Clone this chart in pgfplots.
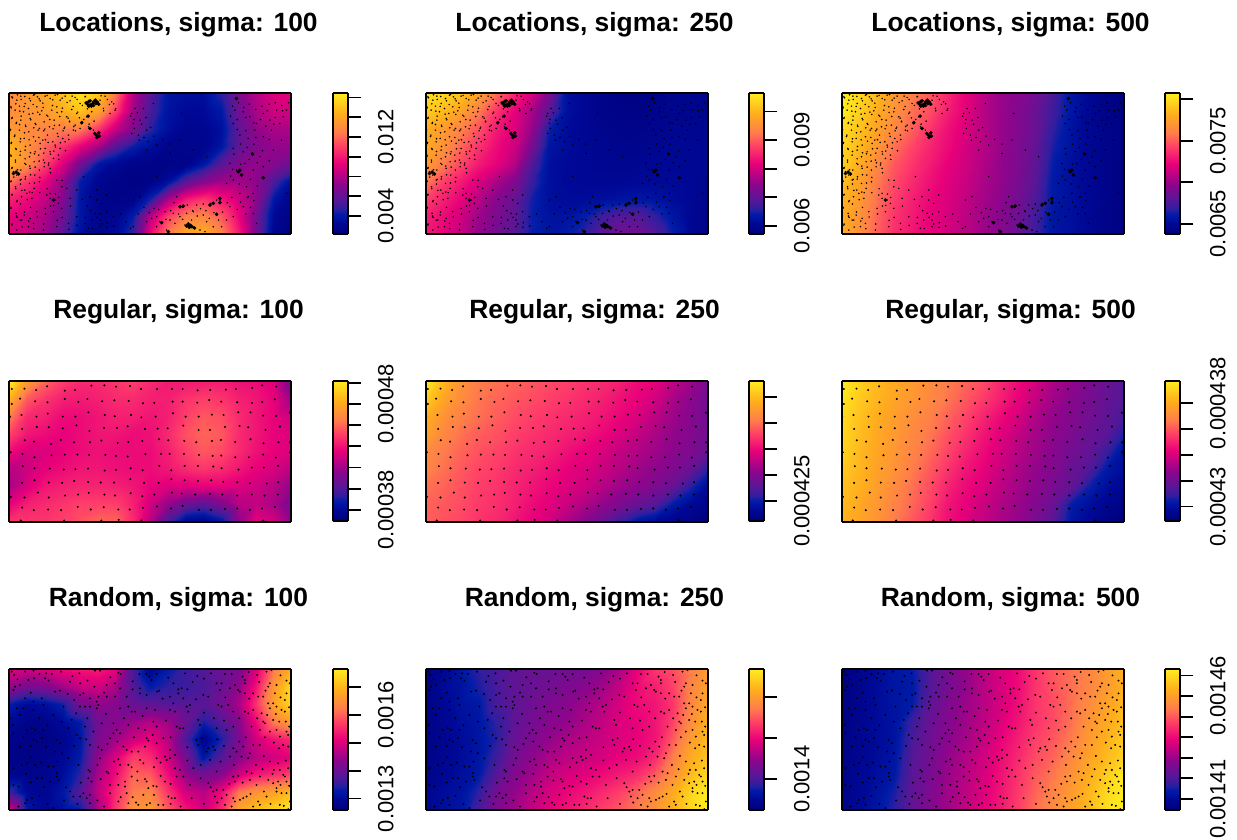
\documentclass[border=0pt]{standalone}
\usepackage{fontspec}
\setmainfont{Liberation Sans}
\usepackage{pgfplots}
\usepackage{pgfplotstable}
\pgfplotsset{compat=1.18}
\pgfplotsset{colormap={rs}{rgb255(0pt)=(0,0,125); rgb255(8pt)=(0,8,150); rgb255(14pt)=(0,28,168); rgb255(18pt)=(48,30,160); rgb255(25pt)=(90,22,150); rgb255(35pt)=(140,5,140); rgb255(50pt)=(232,0,122); rgb255(62pt)=(255,62,105); rgb255(72pt)=(255,125,75); rgb255(85pt)=(255,172,30); rgb255(100pt)=(255,236,30)}}
% ---------- field tables (colour position 0..1, 17 x 9 nodes, row by row)
\pgfplotstableread[row sep=crcr]{c\\
.76\\.80\\.84\\.90\\.98\\.92\\.72\\.42\\.25\\.12\\.10\\.10\\.18\\.32\\.42\\.48\\.50\\
.76\\.78\\.80\\.85\\.90\\.82\\.62\\.38\\.22\\.11\\.08\\.08\\.13\\.30\\.40\\.46\\.46\\
.80\\.76\\.74\\.72\\.72\\.60\\.45\\.33\\.18\\.10\\.06\\.06\\.10\\.26\\.36\\.40\\.40\\
.86\\.78\\.68\\.60\\.50\\.40\\.25\\.15\\.10\\.05\\.05\\.05\\.12\\.26\\.33\\.36\\.36\\
.86\\.76\\.62\\.48\\.30\\.12\\.07\\.04\\.03\\.03\\.04\\.12\\.25\\.33\\.36\\.33\\.28\\
.70\\.60\\.50\\.38\\.14\\.06\\.03\\.02\\.03\\.10\\.25\\.33\\.38\\.38\\.35\\.22\\.10\\
.56\\.52\\.44\\.34\\.12\\.05\\.03\\.05\\.16\\.40\\.55\\.60\\.54\\.45\\.35\\.12\\.05\\
.50\\.46\\.40\\.30\\.12\\.05\\.06\\.14\\.42\\.62\\.72\\.74\\.66\\.50\\.30\\.07\\.03\\
.48\\.44\\.38\\.25\\.10\\.05\\.08\\.20\\.52\\.72\\.84\\.86\\.74\\.55\\.30\\.05\\0\\
}\gA
\pgfplotstableread[row sep=crcr]{c\\
.97\\.95\\.90\\.82\\.70\\.58\\.48\\.32\\.10\\.07\\.04\\.02\\.02\\.03\\.05\\.05\\.05\\
.92\\.88\\.82\\.72\\.60\\.50\\.40\\.25\\.10\\.07\\.04\\.03\\.03\\.04\\.05\\.05\\.05\\
.85\\.80\\.73\\.65\\.55\\.48\\.37\\.15\\.09\\.07\\.05\\.04\\.04\\.05\\.06\\.06\\.06\\
.84\\.78\\.68\\.60\\.52\\.46\\.32\\.12\\.09\\.07\\.06\\.05\\.05\\.06\\.07\\.07\\.06\\
.80\\.72\\.63\\.55\\.50\\.42\\.24\\.10\\.08\\.07\\.06\\.06\\.06\\.07\\.07\\.07\\.06\\
.72\\.62\\.55\\.48\\.40\\.33\\.20\\.10\\.08\\.07\\.07\\.07\\.08\\.08\\.08\\.07\\.05\\
.62\\.56\\.50\\.42\\.34\\.28\\.16\\.10\\.09\\.09\\.10\\.11\\.12\\.11\\.09\\.07\\.05\\
.56\\.52\\.46\\.38\\.32\\.26\\.15\\.11\\.11\\.14\\.20\\.24\\.24\\.18\\.12\\.07\\.04\\
.55\\.50\\.44\\.36\\.30\\.25\\.15\\.12\\.14\\.18\\.26\\.30\\.30\\.24\\.15\\.07\\.03\\
}\gB
\pgfplotstableread[row sep=crcr]{c\\
1\\.95\\.88\\.80\\.73\\.66\\.58\\.50\\.43\\.37\\.34\\.30\\.22\\.12\\.08\\.03\\.02\\
1\\.93\\.85\\.78\\.70\\.64\\.56\\.50\\.42\\.37\\.33\\.28\\.20\\.12\\.07\\.03\\.02\\
.96\\.90\\.82\\.75\\.67\\.60\\.53\\.48\\.42\\.37\\.33\\.28\\.18\\.11\\.07\\.04\\.02\\
.95\\.88\\.79\\.70\\.63\\.57\\.52\\.47\\.42\\.37\\.32\\.27\\.16\\.11\\.07\\.04\\.02\\
.93\\.85\\.75\\.66\\.60\\.55\\.50\\.46\\.41\\.36\\.32\\.26\\.14\\.10\\.07\\.04\\.02\\
.90\\.82\\.72\\.64\\.58\\.53\\.49\\.45\\.40\\.36\\.31\\.25\\.13\\.10\\.07\\.04\\.02\\
.87\\.80\\.70\\.62\\.56\\.51\\.48\\.44\\.39\\.35\\.30\\.23\\.13\\.10\\.07\\.04\\.02\\
.85\\.78\\.68\\.60\\.55\\.50\\.47\\.43\\.38\\.34\\.29\\.21\\.12\\.10\\.07\\.04\\.02\\
.85\\.77\\.67\\.59\\.54\\.50\\.47\\.43\\.38\\.34\\.28\\.20\\.12\\.10\\.07\\.04\\.02\\
}\gC
\pgfplotstableread[row sep=crcr]{c\\
1\\.80\\.68\\.62\\.58\\.58\\.60\\.62\\.58\\.55\\.55\\.55\\.55\\.53\\.52\\.48\\.30\\
.85\\.66\\.60\\.56\\.55\\.56\\.58\\.58\\.56\\.56\\.60\\.62\\.60\\.56\\.54\\.50\\.38\\
.72\\.58\\.56\\.52\\.52\\.54\\.56\\.56\\.54\\.56\\.62\\.66\\.64\\.58\\.54\\.50\\.46\\
.62\\.54\\.52\\.50\\.52\\.54\\.54\\.52\\.53\\.58\\.65\\.68\\.66\\.58\\.54\\.50\\.48\\
.52\\.48\\.48\\.50\\.52\\.53\\.52\\.52\\.52\\.56\\.62\\.66\\.64\\.58\\.53\\.50\\.48\\
.42\\.46\\.50\\.52\\.54\\.54\\.53\\.52\\.52\\.54\\.58\\.60\\.58\\.54\\.50\\.47\\.42\\
.40\\.48\\.54\\.56\\.57\\.57\\.56\\.54\\.50\\.48\\.48\\.50\\.50\\.48\\.46\\.42\\.36\\
.50\\.56\\.58\\.60\\.62\\.62\\.62\\.56\\.46\\.36\\.28\\.25\\.32\\.42\\.44\\.40\\.30\\
.60\\.60\\.60\\.62\\.65\\.68\\.68\\.58\\.42\\.22\\.07\\.05\\.12\\.36\\.50\\.46\\.35\\
}\gD
\pgfplotstableread[row sep=crcr]{c\\
1\\.88\\.78\\.72\\.70\\.68\\.66\\.64\\.62\\.60\\.58\\.56\\.52\\.50\\.44\\.38\\.32\\
.92\\.83\\.76\\.71\\.68\\.66\\.64\\.62\\.60\\.58\\.56\\.53\\.50\\.46\\.40\\.35\\.30\\
.86\\.78\\.73\\.70\\.67\\.64\\.62\\.60\\.58\\.56\\.54\\.51\\.48\\.43\\.38\\.34\\.30\\
.82\\.75\\.70\\.67\\.65\\.62\\.60\\.58\\.56\\.54\\.51\\.48\\.44\\.40\\.36\\.33\\.30\\
.76\\.72\\.68\\.65\\.63\\.60\\.58\\.56\\.53\\.50\\.48\\.44\\.41\\.38\\.35\\.32\\.28\\
.74\\.70\\.66\\.63\\.61\\.58\\.56\\.53\\.50\\.48\\.45\\.42\\.38\\.35\\.32\\.28\\.18\\
.70\\.68\\.65\\.62\\.60\\.57\\.54\\.51\\.48\\.46\\.42\\.38\\.35\\.32\\.28\\.18\\.08\\
.68\\.66\\.64\\.61\\.59\\.56\\.52\\.49\\.45\\.41\\.36\\.32\\.28\\.24\\.14\\.08\\.04\\
.67\\.65\\.63\\.60\\.58\\.54\\.50\\.46\\.40\\.34\\.28\\.20\\.12\\.08\\.05\\.03\\0\\
}\gE
\pgfplotstableread[row sep=crcr]{c\\
1\\.94\\.88\\.84\\.80\\.76\\.72\\.68\\.64\\.58\\.52\\.47\\.40\\.36\\.32\\.28\\.24\\
.98\\.92\\.87\\.83\\.79\\.75\\.71\\.66\\.61\\.56\\.50\\.44\\.38\\.34\\.31\\.27\\.24\\
.96\\.90\\.85\\.81\\.77\\.73\\.68\\.63\\.57\\.52\\.47\\.41\\.36\\.33\\.30\\.26\\.22\\
.95\\.89\\.84\\.80\\.75\\.71\\.65\\.60\\.54\\.49\\.44\\.39\\.35\\.32\\.28\\.25\\.16\\
.94\\.88\\.83\\.79\\.74\\.69\\.63\\.57\\.52\\.47\\.42\\.38\\.34\\.30\\.27\\.20\\.10\\
.92\\.87\\.82\\.78\\.72\\.66\\.60\\.54\\.50\\.45\\.40\\.36\\.33\\.28\\.24\\.13\\.09\\
.90\\.86\\.81\\.76\\.70\\.64\\.57\\.52\\.48\\.43\\.39\\.35\\.31\\.27\\.16\\.10\\.06\\
.88\\.84\\.79\\.74\\.68\\.62\\.54\\.50\\.45\\.41\\.37\\.33\\.28\\.14\\.10\\.06\\.03\\
.86\\.83\\.78\\.72\\.66\\.60\\.53\\.48\\.44\\.40\\.36\\.31\\.25\\.12\\.07\\.03\\0\\
}\gF
\pgfplotstableread[row sep=crcr]{c\\
.48\\.46\\.48\\.52\\.54\\.55\\.50\\.22\\.06\\.14\\.20\\.24\\.28\\.32\\.48\\.72\\.86\\
.36\\.30\\.32\\.38\\.45\\.46\\.40\\.24\\.14\\.18\\.20\\.22\\.28\\.36\\.54\\.80\\.96\\
.14\\.08\\.10\\.15\\.30\\.36\\.34\\.28\\.26\\.24\\.24\\.25\\.30\\.40\\.60\\.82\\.95\\
.08\\.04\\.04\\.08\\.14\\.30\\.34\\.38\\.42\\.38\\.28\\.16\\.24\\.34\\.52\\.72\\.80\\
.04\\.03\\.03\\.05\\.12\\.32\\.38\\.46\\.50\\.42\\.22\\.05\\.16\\.32\\.46\\.54\\.58\\
.03\\.03\\.04\\.07\\.14\\.36\\.48\\.62\\.58\\.46\\.30\\.12\\.24\\.34\\.42\\.46\\.50\\
.06\\.04\\.05\\.09\\.18\\.40\\.52\\.68\\.66\\.52\\.36\\.30\\.34\\.46\\.54\\.58\\.62\\
.20\\.07\\.06\\.12\\.24\\.44\\.58\\.72\\.74\\.60\\.46\\.42\\.52\\.72\\.78\\.82\\.88\\
.46\\.12\\.07\\.10\\.14\\.40\\.60\\.78\\.80\\.66\\.54\\.46\\.58\\.84\\.90\\.95\\1\\
}\gG
\pgfplotstableread[row sep=crcr]{c\\
.02\\.06\\.12\\.18\\.22\\.26\\.28\\.28\\.30\\.30\\.34\\.40\\.50\\.60\\.64\\.72\\.80\\
.03\\.08\\.11\\.16\\.22\\.26\\.28\\.30\\.32\\.34\\.38\\.44\\.52\\.56\\.62\\.74\\.82\\
.03\\.07\\.11\\.13\\.22\\.26\\.29\\.32\\.34\\.38\\.42\\.47\\.52\\.54\\.60\\.74\\.84\\
.03\\.06\\.10\\.12\\.18\\.26\\.30\\.34\\.36\\.40\\.44\\.48\\.50\\.54\\.62\\.76\\.86\\
.03\\.06\\.09\\.12\\.17\\.28\\.32\\.36\\.40\\.42\\.45\\.48\\.50\\.54\\.66\\.80\\.88\\
.03\\.06\\.09\\.12\\.20\\.30\\.35\\.40\\.43\\.45\\.47\\.50\\.52\\.58\\.72\\.84\\.90\\
.04\\.07\\.10\\.13\\.24\\.33\\.38\\.44\\.47\\.49\\.52\\.55\\.58\\.66\\.76\\.88\\.95\\
.06\\.09\\.11\\.18\\.30\\.36\\.42\\.47\\.51\\.54\\.58\\.62\\.68\\.76\\.84\\.94\\1\\
.07\\.10\\.12\\.22\\.32\\.38\\.44\\.50\\.54\\.58\\.62\\.66\\.72\\.78\\.86\\.95\\1\\
}\gH
\pgfplotstableread[row sep=crcr]{c\\
.02\\.05\\.09\\.12\\.14\\.24\\.30\\.36\\.42\\.48\\.52\\.60\\.66\\.70\\.74\\.80\\.86\\
.02\\.05\\.09\\.12\\.13\\.24\\.30\\.36\\.42\\.47\\.52\\.60\\.65\\.70\\.74\\.80\\.86\\
.02\\.05\\.09\\.12\\.14\\.26\\.32\\.37\\.42\\.47\\.53\\.60\\.64\\.70\\.76\\.82\\.88\\
.02\\.05\\.09\\.11\\.20\\.28\\.33\\.38\\.43\\.48\\.54\\.60\\.64\\.70\\.78\\.84\\.90\\
.03\\.06\\.09\\.11\\.22\\.29\\.34\\.39\\.44\\.50\\.56\\.62\\.66\\.72\\.80\\.86\\.92\\
.03\\.06\\.09\\.12\\.24\\.30\\.36\\.41\\.46\\.52\\.58\\.64\\.68\\.75\\.82\\.88\\.94\\
.04\\.07\\.10\\.13\\.25\\.31\\.37\\.42\\.47\\.53\\.60\\.66\\.71\\.78\\.85\\.92\\1\\
.04\\.07\\.11\\.16\\.26\\.32\\.38\\.43\\.48\\.54\\.61\\.68\\.74\\.80\\.87\\.95\\1\\
.05\\.08\\.12\\.18\\.27\\.33\\.38\\.44\\.49\\.55\\.62\\.70\\.76\\.82\\.88\\.97\\1\\
}\gI
% ---------- point tables
\pgfplotstableread[row sep=crcr]{x y\\
35 87\\73 86\\108 90\\141 79\\194 92\\225 90\\274 77\\313 76\\348 80\\390 78\\423 87\\471 87\\516 87\\548 87\\593 91\\631 90\\678 89\\708 87\\757 84\\787 76\\829 80\\
35 132\\60 116\\105 124\\142 127\\194 117\\235 126\\262 117\\306 124\\343 121\\386 123\\429 130\\463 129\\518 125\\548 125\\592 128\\628 120\\664 125\\712 127\\756 129\\787 126\\825 118\\
30 170\\64 165\\109 170\\143 161\\188 170\\226 170\\265 157\\314 165\\344 169\\393 165\\424 172\\467 170\\519 160\\557 170\\596 170\\636 164\\671 165\\715 157\\752 157\\790 167\\829 168\\870 158\\
66 207\\110 201\\146 202\\188 205\\229 196\\268 213\\312 204\\351 204\\383 199\\435 207\\473 206\\503 205\\550 197\\596 210\\630 210\\675 201\\719 198\\745 202\\797 210\\840 200\\
74 241\\102 245\\153 252\\182 240\\222 247\\270 247\\304 242\\353 249\\385 246\\427 243\\477 238\\505 241\\553 243\\589 247\\636 243\\663 240\\706 246\\752 238\\791 250\\836 247\\871 247\\
32 277\\67 282\\103 292\\154 286\\194 284\\232 284\\267 285\\316 285\\348 288\\383 290\\436 283\\483 282\\509 282\\552 282\\597 285\\638 288\\664 287\\706 292\\747 292\\790 284\\828 293\\871 277\\
68 319\\103 325\\149 326\\191 329\\226 328\\264 326\\314 332\\348 330\\392 325\\428 331\\478 318\\514 331\\554 318\\594 318\\640 320\\665 325\\716 329\\756 323\\792 323\\835 318\\
66 369\\103 361\\146 368\\186 369\\222 363\\264 366\\302 368\\342 368\\391 358\\432 369\\476 369\\514 358\\554 361\\594 363\\634 361\\670 366\\712 367\\750 370\\801 371\\835 367\\
32 411\\73 413\\113 398\\146 413\\195 407\\234 404\\266 399\\313 404\\345 407\\392 400\\427 409\\463 404\\516 398\\545 401\\586 404\\630 402\\667 404\\712 407\\756 404\\794 407\\834 404\\
66 443\\101 451\\144 449\\183 451\\233 441\\272 449\\311 442\\355 449\\389 449\\429 444\\471 440\\513 446\\548 438\\597 450\\633 450\\675 447\\712 446\\750 450\\786 446\\825 441\\
62 482\\192 482\\304 482\\356 480\\424 482\\790 482\\
}\ptsReg
\pgfplotstableread[row sep=crcr]{x y\\
35 65\\42 75\\75 65\\100 62\\138 70\\155 72\\183 65\\238 70\\285 62\\300 62\\355 68\\362 72\\418 72\\440 72\\448 80\\470 72\\555 70\\592 78\\633 70\\675 72\\695 72\\728 80\\735 90\\772 75\\800 65\\815 60\\
60 105\\45 110\\40 120\\85 90\\102 85\\135 85\\145 92\\210 95\\240 100\\262 92\\283 110\\320 105\\345 100\\360 115\\420 115\\455 90\\478 122\\520 100\\545 115\\535 118\\650 100\\665 100\\705 105\\715 120\\735 100\\810 100\\830 105\\860 92\\870 100\\
75 145\\100 155\\125 145\\180 122\\165 125\\222 150\\240 135\\250 130\\270 145\\295 140\\290 155\\320 140\\345 140\\380 140\\420 130\\440 135\\472 125\\510 140\\535 130\\550 145\\520 160\\570 165\\610 135\\625 140\\660 120\\690 115\\720 125\\735 130\\760 130\\775 140\\790 140\\805 110\\825 130\\860 130\\855 150\\
50 175\\70 175\\30 205\\60 195\\100 180\\130 165\\160 195\\190 170\\240 170\\255 170\\270 170\\295 165\\290 175\\360 175\\385 170\\395 185\\405 185\\440 175\\465 180\\510 180\\525 185\\560 170\\565 185\\595 210\\655 165\\665 170\\685 165\\700 185\\735 185\\745 190\\760 180\\785 190\\805 160\\820 160\\810 175\\830 170\\855 185\\845 180\\790 215\\820 210\\838 215\\
40 250\\80 240\\95 235\\105 240\\130 240\\185 215\\215 210\\205 235\\230 255\\255 230\\280 245\\305 220\\340 220\\350 240\\340 250\\360 250\\330 265\\385 225\\415 235\\435 240\\460 215\\470 230\\530 230\\540 235\\550 235\\600 225\\650 235\\700 230\\680 240\\755 230\\780 240\\795 220\\830 240\\810 245\\860 245\\865 255\\840 260\\
60 290\\100 270\\125 265\\110 275\\170 270\\180 280\\165 305\\185 310\\240 265\\270 285\\295 292\\305 300\\370 290\\380 300\\395 305\\415 305\\435 290\\440 265\\445 272\\470 280\\490 265\\510 300\\525 315\\590 270\\605 265\\595 285\\625 295\\640 290\\645 300\\620 305\\700 295\\710 305\\730 290\\750 310\\760 285\\780 285\\850 285\\865 290\\
40 355\\65 345\\80 340\\105 345\\145 350\\160 350\\205 325\\170 370\\265 360\\270 365\\300 325\\320 365\\325 370\\355 328\\360 345\\385 345\\395 352\\420 330\\430 340\\470 325\\495 320\\500 330\\510 325\\525 355\\540 360\\580 355\\630 330\\650 365\\690 320\\725 320\\745 325\\740 365\\810 335\\835 340\\840 360\\865 355\\850 375\\
40 405\\55 410\\110 385\\125 385\\150 395\\170 380\\175 390\\265 385\\275 395\\330 405\\355 405\\375 395\\375 410\\395 380\\435 388\\440 395\\445 415\\460 408\\470 410\\495 395\\530 380\\550 380\\570 405\\625 400\\650 420\\670 420\\700 380\\715 378\\705 395\\755 370\\750 390\\780 380\\770 405\\805 390\\820 400\\835 395\\855 380\\860 395\\830 415\\
80 450\\95 445\\75 460\\55 470\\100 465\\160 475\\210 425\\220 440\\240 440\\250 430\\260 445\\270 435\\270 460\\330 430\\355 455\\380 430\\385 460\\408 458\\415 465\\430 435\\440 465\\450 460\\475 465\\490 465\\505 440\\515 445\\525 445\\575 445\\640 425\\645 440\\665 445\\680 435\\700 445\\705 455\\675 465\\695 470\\720 450\\730 445\\740 440\\760 470\\780 465\\775 455\\830 425\\845 430\\860 430\\870 455\\840 465\\800 440\\865 478\\
52 88\\118 72\\217 78\\331 82\\398 94\\505 83\\578 96\\612 86\\746 66\\778 96\\842 76\\92 128\\203 132\\312 128\\398 118\\488 146\\562 118\\588 148\\676 142\\748 146\\797 122\\842 142\\868 172\\
38 225\\118 205\\142 226\\228 190\\262 205\\318 192\\372 205\\428 198\\498 212\\612 188\\642 205\\672 212\\718 205\\772 205\\802 195\\828 192\\858 215\\868 230\\
70 262\\92 288\\138 292\\222 288\\258 268\\322 282\\352 275\\402 262\\458 255\\512 262\\562 292\\652 268\\672 288\\718 275\\738 262\\795 262\\822 278\\838 295\\
92 322\\122 338\\172 335\\235 345\\292 345\\342 335\\412 365\\462 352\\482 338\\562 332\\602 345\\662 335\\702 345\\768 345\\792 318\\822 360\\858 332\\
78 372\\92 398\\132 412\\198 412\\242 398\\302 388\\352 372\\412 392\\482 378\\512 402\\602 385\\632 412\\688 402\\728 398\\788 358\\818 372\\842 405\\868 408\\
118 438\\142 462\\192 452\\232 462\\292 452\\312 470\\362 442\\398 442\\462 435\\512 462\\542 470\\612 462\\652 458\\752 432\\792 425\\812 462\\852 468\\
}\ptsRnd
\pgfplotstableread[row sep=crcr]{x y\\
37 53\\52 44\\63 58\\74 49\\91 62\\103 43\\117 56\\128 69\\141 46\\158 59\\172 43\\186 54\\201 67\\216 48\\231 58\\247 76\\256 49\\303 47\\322 58\\341 71\\
33 83\\47 71\\59 93\\72 79\\87 102\\99 73\\113 96\\129 82\\143 108\\157 76\\171 97\\187 84\\204 114\\219 79\\233 96\\251 118\\262 86\\311 92\\328 73\\347 86\\
36 112\\49 127\\63 108\\77 139\\92 119\\107 133\\119 103\\134 147\\149 118\\163 136\\179 109\\194 141\\209 123\\226 152\\238 113\\267 132\\282 123\\
31 148\\43 169\\58 133\\73 158\\87 179\\101 143\\116 172\\131 152\\144 187\\159 146\\174 169\\189 152\\206 178\\221 139\\
34 187\\48 208\\61 176\\76 199\\91 218\\106 183\\121 206\\136 179\\151 222\\166 201\\181 188\\196 212\\
33 228\\46 246\\61 214\\75 236\\89 258\\103 221\\117 243\\131 219\\146 249\\161 213\\176 238\\
36 262\\41 291\\52 269\\63 298\\77 253\\91 284\\105 261\\119 292\\133 248\\151 278\\
33 303\\47 326\\61 312\\75 297\\89 336\\103 309\\119 338\\
36 343\\51 362\\65 331\\81 359\\96 338\\141 326\\151 378\\166 342\\176 352\\186 301\\
33 382\\49 408\\61 372\\73 396\\91 382\\111 411\\136 402\\161 376\\186 412\\211 378\\
36 432\\51 412\\66 441\\86 423\\101 446\\131 432\\171 421\\206 448\\231 436\\256 412\\276 446\\301 402\\321 442\\
230 330\\247 358\\262 378\\272 392\\291 412\\305 432\\322 428\\341 438\\362 402\\378 425\\392 445\\415 402\\432 382\\448 398\\462 385\\476 388\\
498 418\\512 392\\522 368\\536 402\\548 418\\562 375\\578 392\\592 408\\602 386\\618 392\\628 415\\642 398\\656 420\\668 396\\682 368\\696 352\\712 388\\722 366\\738 402\\752 382\\
392 108\\402 118\\412 98\\425 132\\438 112\\452 142\\403 145\\418 180\\432 172\\462 168\\488 178\\510 192\\
698 78\\716 68\\732 82\\748 72\\768 88\\786 78\\808 72\\826 68\\846 76\\866 68\\692 108\\712 118\\738 112\\762 128\\782 118\\802 92\\822 132\\848 92\\712 148\\738 152\\768 172\\798 138\\826 112\\
702 222\\722 192\\742 202\\762 192\\788 212\\808 178\\698 268\\722 252\\748 238\\772 248\\808 242\\692 288\\718 312\\752 298\\772 318\\742 352\\762 362\\
}\ptsLocC
\pgfplotstableread[row sep=crcr]{x y\\
35 50\\50 60\\62 48\\75 70\\88 55\\100 45\\112 50\\120 62\\135 48\\150 55\\165 45\\180 60\\195 48\\210 62\\225 52\\240 70\\255 50\\300 60\\315 48\\335 65\\
32 80\\45 90\\58 78\\70 95\\85 85\\98 100\\110 80\\125 92\\140 105\\155 90\\170 80\\185 95\\200 110\\215 88\\230 100\\245 125\\260 110\\275 95\\310 85\\330 100\\345 90\\
35 115\\48 130\\62 120\\76 135\\90 115\\105 130\\118 145\\132 125\\148 140\\162 120\\178 135\\192 145\\208 125\\225 135\\240 145\\265 140\\280 150\\
30 150\\44 165\\58 150\\72 175\\86 155\\100 170\\114 150\\128 180\\142 165\\158 185\\172 160\\188 175\\205 165\\220 150\\
33 190\\47 205\\60 185\\75 210\\90 195\\105 215\\120 190\\135 205\\150 215\\165 195\\180 205\\195 185\\
32 225\\46 240\\60 225\\74 250\\88 230\\102 245\\116 225\\130 240\\145 255\\160 235\\175 225\\
35 265\\40 275\\50 285\\62 270\\76 290\\90 265\\104 285\\118 270\\132 260\\150 265\\
32 305\\46 320\\60 300\\74 330\\88 310\\102 325\\118 305\\
35 345\\50 365\\64 350\\80 340\\95 355\\140 345\\150 355\\165 360\\175 370\\185 320\\
32 385\\48 400\\60 420\\72 405\\90 415\\110 395\\135 385\\160 395\\185 385\\210 355\\
35 435\\50 450\\65 420\\85 440\\100 430\\130 450\\170 440\\205 430\\230 410\\255 430\\275 420\\300 440\\320 395\\
250 290\\270 350\\290 330\\305 370\\320 345\\285 400\\265 445\\340 410\\400 440\\440 425\\470 440\\480 425\\
500 450\\510 420\\525 430\\540 380\\530 350\\548 382\\560 400\\575 420\\590 375\\610 372\\632 370\\650 360\\660 362\\580 395\\610 405\\620 425\\650 400\\680 420\\690 380\\540 410\\520 400\\495 395\\470 410\\455 415\\
555 435\\565 440\\575 440\\585 445\\600 450\\615 455\\640 440\\665 440\\700 410\\730 380\\745 350\\760 400\\720 340\\770 430\\
395 100\\405 85\\400 130\\420 120\\440 150\\395 160\\415 165\\445 185\\470 195\\510 220\\545 100\\430 85\\460 70\\
710 55\\705 90\\730 95\\750 110\\770 130\\790 100\\810 120\\830 90\\850 110\\700 130\\720 165\\745 175\\765 150\\790 170\\815 150\\840 130\\860 90\\
700 205\\730 215\\755 220\\780 230\\820 210\\845 180\\690 250\\710 270\\735 250\\760 270\\790 260\\680 310\\700 300\\740 320\\760 340\\
440 210\\470 290\\540 180\\580 210\\620 230\\400 360\\420 350\\290 360\\300 420\\150 340\\170 300\\200 325\\860 340\\
}\ptsLoc
\pgfplotstableread[row sep=crcr]{x y\\
258 68\\262 72\\266 64\\270 74\\270 62\\274 78\\278 70\\282 64\\286 60\\288 70\\292 66\\296 72\\266 78\\280 76\\
264 108\\284 160\\290 166\\296 158\\291 172\\298 168\\
245 128\\270 145\\
40 280\\48 276\\55 282\\
160 360\\
720 270\\725 285\\715 275\\790 293\\758 222\\710 55\\
540 380\\550 378\\630 375\\640 370\\660 355\\660 368\\650 403\\
560 438\\568 442\\576 440\\565 432\\572 436\\584 444\\505 455\\485 428\\
}\ptsLocB
\newcommand{\heat}[6]{%
\begin{axis}[at={(#1pt,{839pt-#2pt})},anchor=south west,scale only axis,
  width=282pt,height=140.5pt,view={0}{90},
  xmin=28,xmax=875,ymin=#4,ymax={#4+422},y dir=reverse,
  xtick=\empty,ytick=\empty,ztick=\empty,axis on top,
  axis line style={line width=2pt},
  colormap name=rs,point meta min=0,point meta max=1,
  title={#5},
  title style={at={(0.5993,1)},anchor=base,yshift=56pt,inner sep=0pt,font=\bfseries\fontsize{26.4}{30}\selectfont}]
\addplot3[surf,shader=interp,mesh/rows=9,mesh/cols=17,point meta=\thisrow{c}]
  table[x index=0,y index=0,z index=0,x expr={28+mod(\coordindex,17)*52.9375},y expr={#4+floor((\coordindex+0.5)/17)*52.75},z expr=0] {#3};
#6
\end{axis}}
\newcommand{\cbar}[6]{%
\begin{axis}[at={(#1pt,{839pt-#2pt})},anchor=south west,scale only axis,
  width=15pt,height=140.5pt,view={0}{90},
  xmin=0,xmax=1,ymin=#3,ymax=#4,
  xtick=\empty,ztick=\empty,ytick={#5},yticklabels={#6},
  ytick pos=right,yticklabel pos=right,tick align=outside,
  major tick length=13pt,tick style={line width=1.8pt,black},
  yticklabel style={rotate=90,anchor=north,inner sep=0pt,yshift=-16.5pt,font=\fontsize{22}{24}\selectfont},
  axis on top,axis line style={line width=2pt},
  colormap name=rs,point meta min=0,point meta max=1]
\addplot3[surf,shader=interp,mesh/rows=2,mesh/cols=2,point meta=explicit]
  coordinates {(0,#3,0)[0] (1,#3,0)[0]  (0,#4,0)[1] (1,#4,0)[1]};
\end{axis}}
\newcommand{\locpts}{%
\addplot3[only marks,mark=*,mark size=0.55pt,mark options={draw=none,fill=black,fill opacity=.38}] table[x=x,y=y,z index=0,z expr=0] {\ptsLoc};
\addplot3[only marks,mark=*,mark size=0.55pt,mark options={draw=none,fill=black,fill opacity=.38}] table[x=x,y=y,z index=0,z expr=0] {\ptsLocC};
\addplot3[only marks,mark=*,mark size=1.6pt,mark options={draw=none,fill=black}] table[x=x,y=y,z index=0,z expr=0] {\ptsLocB};}
\newcommand{\regpts}{%
\addplot3[only marks,mark=*,mark size=0.8pt,mark options={draw=none,fill=black}] table[x=x,y=y,z index=0,z expr=0] {\ptsReg};}
\newcommand{\rndpts}{%
\addplot3[only marks,mark=*,mark size=0.75pt,mark options={draw=none,fill=black,fill opacity=.75}] table[x=x,y=y,z index=0,z expr=0] {\ptsRnd};}
\begin{document}
\begin{tikzpicture}[x=1pt,y=1pt]
\path[use as bounding box] (0,0) rectangle (1237pt,839pt);
\heat{9.5}{234}{\gA}{40}{Locations, sigma: 100}{\locpts}
\heat{425.5}{234}{\gB}{40}{Locations, sigma: 250}{\locpts}
\heat{841.5}{234}{\gC}{40}{Locations, sigma: 500}{\locpts}
\heat{9.5}{521.5}{\gD}{63}{Regular, sigma: 100}{\regpts}
\heat{425.5}{521.5}{\gE}{63}{Regular, sigma: 250}{\regpts}
\heat{841.5}{521.5}{\gF}{63}{Regular, sigma: 500}{\regpts}
\heat{9.5}{809.5}{\gG}{57}{Random, sigma: 100}{\rndpts}
\heat{425.5}{809.5}{\gH}{57}{Random, sigma: 250}{\rndpts}
\heat{841.5}{809.5}{\gI}{57}{Random, sigma: 500}{\rndpts}
\cbar{333.3}{234}{2.17}{16.4}{4,6,8,10,12,14,16}{0.004,,,,0.012,,}
\cbar{749.3}{234}{5.71}{10.63}{6,7,8,9,10}{0.006,,,0.009,}
\cbar{1165.3}{234}{6.376}{8.068}{6.5,7,7.5,8}{0.0065,,0.0075,}
\cbar{333.3}{521.5}{369}{501.6}{380,400,420,440,460,480,500}{0.00038,,,,,0.00048,}
\cbar{749.3}{521.5}{421.03}{448.08}{425,430,435,440,445}{0.000425,,,,}
\cbar{1165.3}{521.5}{428.84}{439.73}{430,432,434,436,438}{0.00043,,,,0.000438}
\cbar{333.3}{809.5}{1260.7}{1765.5}{1300,1400,1500,1600,1700}{0.0013,,,0.0016,}
\cbar{749.3}{809.5}{1363.3}{1533.9}{1400,1450,1500}{0.0014,,}
\cbar{1165.3}{809.5}{1404.84}{1473.2}{1410,1420,1430,1440,1450,1460,1470}{0.00141,,,,,0.00146,}
\end{tikzpicture}
\end{document}
